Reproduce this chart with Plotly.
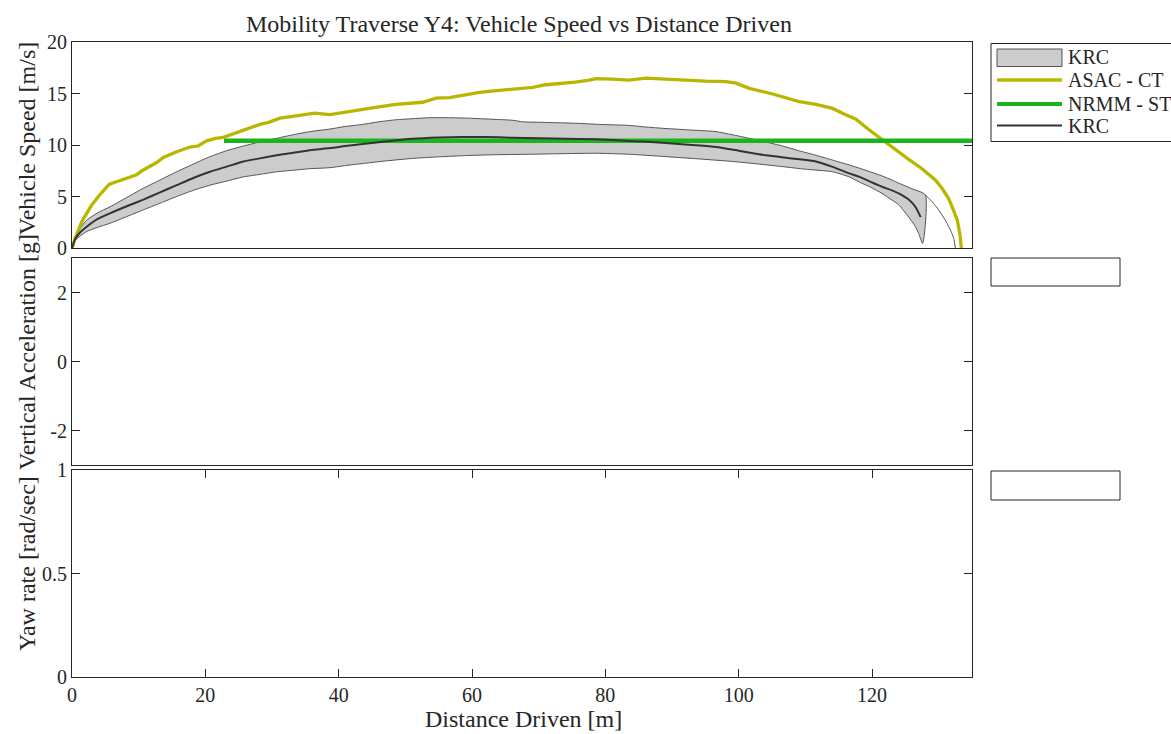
import plotly.graph_objects as go

# ---- data: vehicle speed [m/s] vs distance driven [m] ----
asac_dist = [0, 0.5, 1.5, 2.95, 4.2, 5.6, 7.0, 8.2, 9.7, 10.5, 11.7, 12.7, 13.7, 15.7, 17.7,
             18.9, 20.2, 21.5, 22.7, 24.2, 26.2, 28.2, 29.5, 31.2, 32.8, 34.2, 36.4, 38.7,
             40.5, 43.3, 46.0, 48.6, 50.5, 52.6, 54.6, 56.6, 58.8, 61.1, 63.3, 65.6, 67.5,
             69.1, 71.1, 73.5, 75.5, 77.6, 78.6, 81.0, 83.6, 86.1, 88.5, 91.6, 95.0, 98.1,
             99.6, 101.6, 103.3, 105.1, 107.0, 109.1, 111.6, 114.1, 115.8, 117.6, 119.5,
             121.5, 123.0, 124.0, 125.5, 127.5, 129.5, 130.5, 131.5, 132.2, 132.8, 133.2, 133.4]
asac_speed = [0, 1.0, 2.6, 4.17, 5.2, 6.2, 6.5, 6.8, 7.1, 7.5, 7.9, 8.3, 8.8, 9.35, 9.8,
              9.9, 10.4, 10.65, 10.75, 11.1, 11.5, 12.0, 12.2, 12.6, 12.75, 12.9, 13.1, 12.95,
              13.15, 13.45, 13.7, 13.95, 14.05, 14.15, 14.55, 14.6, 14.85, 15.1, 15.25, 15.4, 15.5,
              15.6, 15.85, 15.95, 16.1, 16.3, 16.45, 16.4, 16.3, 16.5, 16.4, 16.3, 16.2, 16.15,
              16.0, 15.5, 15.25, 14.95, 14.6, 14.2, 13.95, 13.55, 13.0, 12.5, 11.5,
              10.5, 9.8, 9.35, 8.6, 7.7, 6.6, 5.8, 4.8, 3.7, 2.7, 1.3, 0]

nrmm_dist = [22.8, 135.0]
nrmm_speed = [10.42, 10.42]

krc_upper_dist = [0, 0.5, 1.2, 2.2, 3.8, 5.7, 8.2, 10.7, 13.2, 15.7, 18.2, 20.7, 23.2, 25.7,
                  28.2, 30.7, 33.2, 35.7, 38.7, 41.0, 43.6, 46.0, 48.6, 51.0, 53.6, 56.5, 59.6,
                  63.0, 66.1, 67.6, 70.5, 73.6, 76.0, 79.1, 83.6, 86.0, 89.1, 93.0, 96.6, 99.0,
                  101.6, 104.0, 106.6, 109.0, 111.6, 114.0, 116.6, 118.1, 121.5, 123.0, 124.0,
                  126.0, 128.0]
krc_upper_speed = [0, 1.1, 1.9, 2.7, 3.4, 4.0, 4.9, 5.8, 6.6, 7.4, 8.15, 8.87, 9.45, 9.9,
                   10.3, 10.65, 11.0, 11.3, 11.55, 11.8, 12.0, 12.25, 12.45, 12.55, 12.65, 12.65, 12.6,
                   12.5, 12.4, 12.25, 12.2, 12.15, 12.1, 12.0, 11.9, 11.75, 11.6, 11.45, 11.3, 11.0,
                   10.65, 10.3, 9.9, 9.45, 9.0, 8.55, 8.06, 7.75, 7.0, 6.6, 6.3,
                   5.75, 5.15]

# upper bound trace continues past the end of the shaded envelope
krc_upper_tail_dist = [128.0, 129.0, 130.0, 131.0, 131.5, 132.0, 132.3, 132.5]
krc_upper_tail_speed = [5.15, 4.5, 3.7, 2.7, 2.07, 1.4, 0.8, 0]

krc_lower_dist = [0, 0.5, 1.2, 2.2, 3.8, 5.7, 8.2, 10.7, 13.2, 15.7, 18.2, 20.7, 23.2, 25.7,
                  28.2, 30.7, 33.2, 35.7, 38.7, 41.0, 43.6, 47.0, 51.1, 55.0, 58.6, 63.0, 68.6,
                  73.0, 78.6, 83.6, 89.1, 94.0, 99.1, 103.0, 106.6, 110.0, 114.1, 116.6, 118.1,
                  119.8, 121.5, 123.0, 124.0, 125.5, 126.5, 127.0, 127.6]
krc_lower_speed = [0, 0.75, 1.15, 1.6, 2.0, 2.4, 3.05, 3.7, 4.35, 5.0, 5.6, 6.1, 6.5, 6.9,
                   7.15, 7.4, 7.55, 7.7, 7.8, 8.0, 8.2, 8.45, 8.7, 8.85, 8.96, 9.05, 9.1,
                   9.15, 9.2, 9.1, 8.87, 8.65, 8.4, 8.15, 7.9, 7.65, 7.4, 6.9, 6.4,
                   5.9, 5.3, 4.66, 4.2, 3.0, 2.1, 1.4, 0.45]

krc_mean_dist = [0, 0.5, 1.2, 2.2, 3.8, 5.7, 8.2, 10.7, 13.2, 15.7, 18.2, 20.7, 23.2, 25.7,
                 28.2, 30.7, 33.2, 35.7, 38.7, 41.0, 43.6, 47.0, 51.1, 55.0, 58.6, 62.0, 66.1,
                 70.0, 74.0, 78.6, 83.6, 89.1, 93.0, 96.6, 100.0, 104.1, 108.0, 111.6, 114.0,
                 116.6, 118.1, 121.5, 123.0, 124.0, 125.5, 126.5, 127.3]
krc_mean_speed = [0, 0.9, 1.5, 2.07, 2.8, 3.37, 4.05, 4.7, 5.4, 6.1, 6.8, 7.4, 7.9, 8.4,
                  8.7, 9.0, 9.25, 9.5, 9.7, 9.9, 10.1, 10.35, 10.6, 10.72, 10.78, 10.78, 10.7,
                  10.65, 10.6, 10.55, 10.4, 10.2, 10.0, 9.8, 9.45, 9.0, 8.7, 8.4, 7.9,
                  7.25, 6.9, 5.95, 5.6, 5.3, 4.7, 4.0, 3.0]

# ---- style ----
FONT = "Liberation Serif"
INK = "#262626"
C_ASAC = "#b9b600"
C_NRMM = "#1cb31c"
C_MEAN = "#333333"
C_BAND = "#cccccc"
C_EDGE = "#555555"

W, H = 1171, 734


def fx(p):
    return p / W


def fy(p):
    return 1 - p / H


fig = go.Figure()

# shaded KRC envelope (upper bound out, lower bound back)
fig.add_trace(go.Scatter(
    x=krc_upper_dist + krc_lower_dist[::-1],
    y=krc_upper_speed + krc_lower_speed[::-1],
    fill="toself", fillcolor=C_BAND, mode="lines",
    line=dict(color=C_EDGE, width=1, shape="spline", smoothing=0.6), name="KRC",
    xaxis="x", yaxis="y", showlegend=False, hoverinfo="skip"))
fig.add_trace(go.Scatter(
    x=krc_upper_tail_dist, y=krc_upper_tail_speed, mode="lines",
    line=dict(color=C_EDGE, width=1, shape="spline", smoothing=0.6), xaxis="x", yaxis="y",
    showlegend=False, hoverinfo="skip"))
fig.add_trace(go.Scatter(
    x=asac_dist, y=asac_speed, mode="lines", name="ASAC - CT",
    line=dict(color=C_ASAC, width=3.3), xaxis="x", yaxis="y", showlegend=False))
fig.add_trace(go.Scatter(
    x=nrmm_dist, y=nrmm_speed, mode="lines", name="NRMM - ST",
    line=dict(color=C_NRMM, width=4.5), xaxis="x", yaxis="y", showlegend=False))
fig.add_trace(go.Scatter(
    x=krc_mean_dist, y=krc_mean_speed, mode="lines", name="KRC",
    line=dict(color=C_MEAN, width=2, shape="spline", smoothing=0.6),
    xaxis="x", yaxis="y", showlegend=False))

# empty vertical-acceleration and yaw-rate panels
fig.add_trace(go.Scatter(x=[], y=[], xaxis="x2", yaxis="y2", showlegend=False))
fig.add_trace(go.Scatter(x=[], y=[], xaxis="x3", yaxis="y3", showlegend=False))

xdom = [fx(72), fx(972)]
axis_common = dict(showline=True, linecolor=INK, linewidth=1, mirror="ticks",
                   showgrid=False, zeroline=False, ticks="inside", ticklen=8,
                   tickcolor=INK, tickwidth=1, automargin=False,
                   tickfont=dict(family=FONT, size=20, color=INK))

fig.update_layout(
    width=W, height=H,
    margin=dict(l=0, r=0, t=0, b=0, pad=0, autoexpand=False),
    paper_bgcolor="white", plot_bgcolor="white", showlegend=False,
    xaxis=dict(axis_common, domain=xdom, anchor="y", range=[0, 135],
               ticks="", showticklabels=False, mirror=True),
    yaxis=dict(axis_common, domain=[fy(248), fy(42)], anchor="x", range=[0, 20],
               tickvals=[0, 5, 10, 15, 20]),
    xaxis2=dict(axis_common, domain=xdom, anchor="y2", range=[0, 135],
                ticks="", showticklabels=False, mirror=True),
    yaxis2=dict(axis_common, domain=[fy(465), fy(258)], anchor="x2", range=[-3, 3],
                tickvals=[-2, 0, 2], ticktext=["-2", "0", "2"]),
    xaxis3=dict(axis_common, domain=xdom, anchor="y3", range=[0, 135],
                tickvals=[0, 20, 40, 60, 80, 100, 120]),
    yaxis3=dict(axis_common, domain=[fy(677), fy(470)], anchor="x3", range=[0, 1],
                tickvals=[0, 0.5, 1], ticktext=["0", "0.5", "1"]),
)

TSIZE = 24
annotations = [
    dict(text="Mobility Traverse Y4: Vehicle Speed vs Distance Driven",
         x=fx(519), y=fy(24), font=dict(size=TSIZE)),
    dict(text="Distance Driven [m]", x=fx(523), y=fy(719), font=dict(size=TSIZE)),
    dict(text="Vehicle Speed [m/s]", x=fx(27), y=fy(139), textangle=-90, font=dict(size=TSIZE)),
    dict(text="Vertical Acceleration [g]", x=fx(27), y=fy(352), textangle=-90, font=dict(size=TSIZE)),
    dict(text="Yaw rate [rad/sec]", x=fx(27), y=fy(564), textangle=-90, font=dict(size=TSIZE)),
]

# legend box for the speed panel
shapes = [
    dict(type="rect", xref="paper", yref="paper", x0=fx(991), x1=fx(1200),
         y0=fy(141.5), y1=fy(43.5), line=dict(color=INK, width=1), fillcolor="white", layer="above"),
    dict(type="rect", xref="paper", yref="paper", x0=fx(997), x1=fx(1062),
         y0=fy(66.5), y1=fy(49), line=dict(color=C_EDGE, width=1), fillcolor=C_BAND, layer="above"),
    dict(type="line", xref="paper", yref="paper", x0=fx(997), x1=fx(1062),
         y0=fy(80), y1=fy(80), line=dict(color=C_ASAC, width=3.3), layer="above"),
    dict(type="line", xref="paper", yref="paper", x0=fx(997), x1=fx(1062),
         y0=fy(104), y1=fy(104), line=dict(color=C_NRMM, width=4), layer="above"),
    dict(type="line", xref="paper", yref="paper", x0=fx(997), x1=fx(1062),
         y0=fy(125.5), y1=fy(125.5), line=dict(color=C_MEAN, width=2), layer="above"),
    # empty legend boxes of the lower panels
    dict(type="rect", xref="paper", yref="paper", x0=fx(991), x1=fx(1120),
         y0=fy(286), y1=fy(258), line=dict(color=INK, width=1), fillcolor="white"),
    dict(type="rect", xref="paper", yref="paper", x0=fx(991), x1=fx(1120),
         y0=fy(500), y1=fy(471), line=dict(color=INK, width=1), fillcolor="white"),
]
for label, ypx in [("KRC", 57), ("ASAC - CT", 80), ("NRMM - ST", 104), ("KRC", 126)]:
    annotations.append(dict(text=label, x=fx(1066), y=fy(ypx), xanchor="left",
                            font=dict(size=20)))

for a in annotations:
    a.setdefault("xref", "paper")
    a.setdefault("yref", "paper")
    a.setdefault("xanchor", "center")
    a.setdefault("yanchor", "middle")
    a.setdefault("showarrow", False)
    a["font"] = dict(family=FONT, color=INK, **a["font"])

fig.update_layout(annotations=annotations, shapes=shapes)

fig.write_html("out.html")
